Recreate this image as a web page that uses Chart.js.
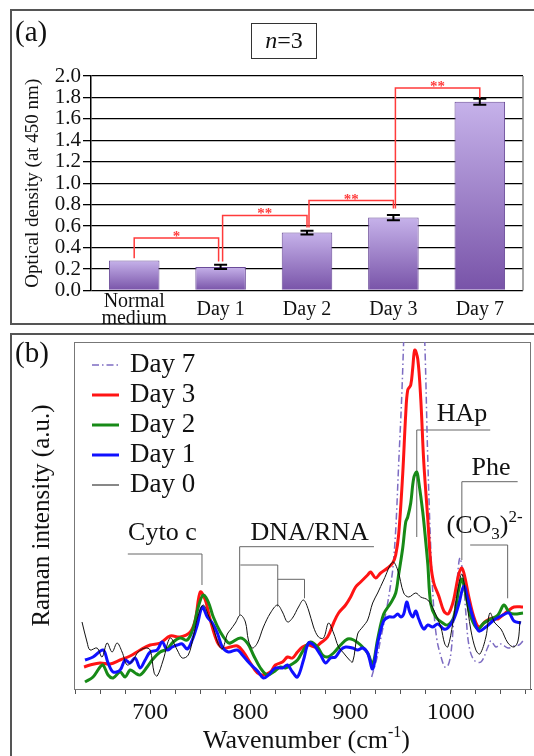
<!DOCTYPE html>
<html>
<head>
<meta charset="utf-8">
<script src="https://cdn.jsdelivr.net/npm/chart.js@4.4.0/dist/chart.umd.min.js"></script>
<style>
  html, body { margin: 0; padding: 0; background: #fff; }
  body { width: 534px; height: 756px; position: relative; overflow: hidden;
         font-family: "Liberation Serif", "Times New Roman", serif; color: #111; }
  .frame { position: absolute; border: 2px solid #555; box-sizing: border-box; }
  #frameA { left: 10px; top: 9px; width: 540px; height: 316px; }
  #frameB { left: 10px; top: 333px; width: 540px; height: 440px; }
  canvas { position: absolute; left: 0; }
  #odChart { top: 0; }
  #ramanChart { top: 333px; }
  .tag { position: absolute; font-size: 29px; line-height: 1; }
  #tagA { left: 15px; top: 17px; }
  #tagB { left: 15px; top: 338px; }
  #nBox { position: absolute; left: 251px; top: 23px; width: 66px; height: 36px;
          border: 1.5px solid #333; box-sizing: border-box; text-align: center;
          font-size: 24px; line-height: 33px; }
</style>
</head>
<body>
<div class="frame" id="frameA"></div>
<div class="frame" id="frameB"></div>
<canvas id="odChart" width="534" height="325"></canvas>
<canvas id="ramanChart" width="534" height="423"></canvas>
<div class="tag" id="tagA">(a)</div>
<div class="tag" id="tagB">(b)</div>
<div id="nBox"><i>n</i>=3</div>
<script>
// ---------------------------------------------------------------------
// Panel (a): optical density at 450 nm, bars with error bars + brackets
// ---------------------------------------------------------------------
const odCategories = [["Normal", "medium"], "Day 1", "Day 2", "Day 3", "Day 7"];
const odValues = [0.28, 0.22, 0.54, 0.68, 1.76];
const odErrors = [0, 0.02, 0.017, 0.024, 0.027];

// significance brackets: from bar, to bar, left foot, top, right foot, label
const sigFrom = [0, 1, 2, 3];
const sigTo = [1, 2, 3, 4];
const sigStart = [0.30, 0.27, 0.587, 0.765];
const sigTop = [0.49, 0.70, 0.838, 1.888];
const sigEnd = [0.27, 0.587, 0.765, 1.796];
const sigLabels = ["*", "**", "**", "**"];

// ---------------------------------------------------------------------
// Panel (b): Raman spectra, [wavenumber cm-1, intensity a.u.]
// ---------------------------------------------------------------------
const day3 = [[634,22],[640,24],[650,26],[660,25],[670,29],[680,33],[690,39],[700,44],[710,46],[720,53],
  [730,52],[740,57],[745,69],[750,97],[755,89],[760,69],[767,47],[773,41],[780,42],[787,43],[793,37],
  [800,26],[807,16],[813,14],[820,17],[825,24],[832,27],[837,32],[842,31],[847,37],[852,42],[858,44],
  [865,42],[870,46],[877,52],[883,66],[888,76],[895,84],[900,92],[905,102],[910,107],[917,114],[920,117],
  [925,111],[930,116],[937,121],[942,126],[945,134],[948,155],[952,215],[955,275],[957,299],[960,304],
  [962,321],[964,339],[967,330],[970,290],[973,227],[977,170],[980,125],[983,106],[988,93],[993,78],
  [997,75],[1000,80],[1003,90],[1008,115],[1011,121],[1014,112],[1018,92],[1023,72],[1028,62],[1035,68],
  [1042,71],[1047,70],[1052,74],[1057,78],[1063,82],[1072,82]];
const day2 = [[635,7],[643,12],[650,22],[653,24],[658,14],[663,11],[670,17],[675,12],[680,19],[685,16],
  [690,14],[697,22],[702,29],[710,37],[717,40],[723,47],[730,51],[737,49],[743,61],[748,82],[753,94],
  [758,87],[763,72],[770,57],[777,47],[780,46],[790,51],[797,46],[803,34],[810,21],[817,14],[823,17],
  [830,22],[835,21],[840,24],[847,29],[853,39],[860,47],[867,42],[872,34],[877,32],[883,36],[890,44],
  [897,50],[903,49],[910,44],[917,36],[922,25],[927,50],[933,75],[940,86],[945,96],[948,115],[952,141],
  [955,167],[957,172],[960,186],[963,211],[966,217],[968,207],[972,177],[975,147],[977,125],[980,85],
  [985,72],[992,66],[997,64],[1003,72],[1008,100],[1011,110],[1015,94],[1020,72],[1027,60],[1033,66],
  [1040,70],[1047,74],[1053,84],[1058,77],[1063,75],[1072,76]];
const day1 = [[635,29],[643,32],[653,39],[658,26],[663,17],[670,19],[675,29],[680,26],[685,31],[690,21],
  [695,29],[700,37],[707,39],[712,47],[717,39],[722,42],[727,44],[732,45],[737,40],[742,49],[747,64],
  [752,82],[757,72],[762,66],[767,56],[772,42],[778,37],[787,39],[792,34],[798,27],[803,22],[808,17],
  [813,11],[818,14],[825,21],[832,21],[837,24],[842,17],[847,12],[853,29],[858,46],[863,44],[870,34],
  [875,26],[880,31],[885,32],[890,39],[895,42],[902,41],[907,39],[912,41],[917,36],[922,20],[927,46],
  [933,68],[938,72],[943,72],[947,75],[950,72],[953,75],[956,87],[959,77],[962,72],[965,78],[968,70],
  [973,60],[977,64],[982,62],[987,65],[993,60],[997,61],[1003,70],[1008,85],[1013,103],[1017,90],
  [1022,72],[1028,58],[1035,62],[1043,69],[1052,74],[1058,76],[1063,68],[1070,66]];
const day0 = [[632,67],[637,47],[640,39],[647,41],[652,32],[657,46],[662,37],[667,46],[672,37],[677,24],
  [683,29],[688,37],[695,41],[700,39],[704,16],[707,13],[713,29],[720,51],[727,39],[732,31],[738,34],
  [743,52],[748,74],[753,84],[758,74],[763,61],[768,45],[772,40],[777,55],[780,59],[785,66],[790,74],
  [795,67],[798,49],[802,41],[807,46],[813,62],[820,76],[827,84],[832,77],[837,67],[842,71],[848,82],
  [853,89],[858,79],[863,62],[868,52],[873,51],[878,66],[883,56],[888,42],[893,36],[898,30],[902,27],
  [907,55],[912,62],[917,69],[922,86],[927,96],[933,109],[942,127],[947,119],[953,96],[958,92],[965,96],
  [970,92],[977,89],[983,79],[990,62],[994,45],[997,42],[1002,66],[1007,99],[1011,115],[1015,93],
  [1020,59],[1025,39],[1029,35],[1035,52],[1039,76],[1044,66],[1050,60],[1057,46],[1063,42],[1067,48],
  [1069,68]];
const day7 = [[921,12],[926,30],[930,50],[934,70],[937,86],[940,105],[942,119],[945,159],[948,226],
  [951,292],[953,350],[957,470],[963,520],[969,470],[974,347],[977,230],[980,140],[983,80],[986,50],
  [990,33],[994,22],[997,23],[1000,35],[1003,70],[1006,105],[1009,131],[1012,115],[1015,76],[1018,44],
  [1023,29],[1030,27],[1037,42],[1040,48],[1045,42],[1050,45],[1057,41],[1063,43],[1068,44],[1072,48]];

const ramanTicks = [625,650,675,700,725,750,775,800,825,850,875,900,925,950,975,1000,1025,1050,1075];
const legendOrder = ["Day 7", "Day 3", "Day 2", "Day 1", "Day 0"];

// peak assignment brackets, in [wavenumber, intensity]
const annoPaths = [
  [[677.7,135],[751.7,135],[751.7,104]],
  [[923.3,142.3],[789.3,142.3],[789.3,74]],
  [[790,124],[827.3,124],[827.3,82.3]],
  [[827.3,109.7],[854,109.7],[854,90.7]],
  [[1039.3,259],[966,259],[966,152]],
  [[1066.7,207.3],[1011,207.3],[1011,129]],
  [[1019.3,144],[1056.7,144],[1056.7,90.7]]
];
const annoLabels = [["Cyto c", 678, 149], ["DNA/RNA", 800, 149], ["HAp", 986, 268], ["Phe", 1020.7, 214]];

const SERIF = "'Liberation Serif', 'Times New Roman', serif";
Chart.defaults.font.family = SERIF;
Chart.defaults.color = "#000";

// ---------------- panel (a) ----------------
new Chart(document.getElementById("odChart"), {
    type: "bar",
    data: {
        labels: odCategories,
        datasets: [{
            data: odValues,
            backgroundColor: function (c) {
                const chart = c.chart;
                if (!chart.chartArea || c.type !== "data") return "#a08ac8";
                const y = chart.scales.y;
                const g = chart.ctx.createLinearGradient(0, y.getPixelForValue(odValues[c.dataIndex]), 0, y.getPixelForValue(0));
                g.addColorStop(0, "#c6b2ea");
                g.addColorStop(1, "#7853a8");
                return g;
            },
            borderColor: "#6a4b98",
            borderWidth: 1,
            categoryPercentage: 1,
            barPercentage: 0.585
        }]
    },
    options: {
        responsive: false, animation: false, devicePixelRatio: 1,
        layout: { padding: { top: 76, right: 11, left: 0, bottom: 0 } },
        plugins: { legend: { display: false }, tooltip: { enabled: false } },
        scales: {
            x: {
                grid: { display: false, drawTicks: false },
                border: { display: false },
                ticks: { font: { size: 20, lineHeight: 0.85 }, padding: 11, crossAlign: "center", maxRotation: 0, color: "#111" },
                afterFit: function (s) { s.height = 34.5; }
            },
            y: {
                min: 0, max: 2,
                ticks: { stepSize: 0.2, autoSkip: false, padding: 2, font: { size: 21, lineHeight: 1 }, color: "#111",
                         callback: v => v.toFixed(1) },
                grid: { color: "#000", lineWidth: 1.3, tickLength: 8 },
                border: { color: "#000", width: 1.5 },
                title: { display: true, text: "Optical density (at 450 nm)", font: { size: 19 }, padding: { top: 22, bottom: 0 }, color: "#111" },
                afterFit: function (s) { s.width = 91; }
            }
        }
    },
    plugins: [{
        id: "odExtras",
        afterDatasetsDraw: function (chart) {
            const ctx = chart.ctx, a = chart.chartArea, y = chart.scales.y;
            const bars = chart.getDatasetMeta(0).data;
            ctx.save();
            // right frame line
            ctx.strokeStyle = "#888"; ctx.lineWidth = 1.5;
            ctx.beginPath(); ctx.moveTo(a.right, a.top); ctx.lineTo(a.right, a.bottom); ctx.stroke();
            // error bars
            ctx.strokeStyle = "#000"; ctx.lineWidth = 2;
            odErrors.forEach(function (e, i) {
                if (!e) return;
                const x = bars[i].x, t = y.getPixelForValue(odValues[i] + e), b = y.getPixelForValue(odValues[i] - e);
                ctx.beginPath();
                ctx.moveTo(x, t); ctx.lineTo(x, b);
                ctx.moveTo(x - 6.5, t); ctx.lineTo(x + 6.5, t);
                ctx.moveTo(x - 6.5, b); ctx.lineTo(x + 6.5, b);
                ctx.stroke();
            });
            // significance brackets
            ctx.strokeStyle = "#ff3b3b"; ctx.fillStyle = "#ff3b3b"; ctx.lineWidth = 1.5;
            ctx.font = "bold 15px " + SERIF; ctx.textAlign = "center"; ctx.textBaseline = "alphabetic";
            sigFrom.forEach(function (f, k) {
                const x1 = bars[f].x + (k ? 2 : 0), x2 = bars[sigTo[k]].x - (k === 0 ? 2 : 0);
                const top = y.getPixelForValue(sigTop[k]);
                ctx.beginPath();
                ctx.moveTo(x1, y.getPixelForValue(sigStart[k]));
                ctx.lineTo(x1, top); ctx.lineTo(x2, top);
                ctx.lineTo(x2, y.getPixelForValue(sigEnd[k]));
                ctx.stroke();
                ctx.fillText(sigLabels[k], (x1 + x2) / 2, top + 3);
            });
            ctx.restore();
        }
    }]
});

// ---------------- panel (b) ----------------
function pts(arr) { return arr.map(p => ({ x: p[0], y: p[1] })); }

const ramanSets = [
    { label: "Day 0", data: pts(day0), borderColor: "#111", borderWidth: 1 },
    { label: "Day 1", data: pts(day1), borderColor: "#1010ff", borderWidth: 3 },
    { label: "Day 2", data: pts(day2), borderColor: "#178a17", borderWidth: 3 },
    { label: "Day 3", data: pts(day3), borderColor: "#ff1414", borderWidth: 3 },
    { label: "Day 7", data: pts(day7), borderColor: "#7d6cc2", borderWidth: 1.5, borderDash: [7, 3, 1.5, 3] }
];
ramanSets.forEach(d => { d.pointRadius = 0; d.tension = 0.35; d.fill = false; d.borderDash = d.borderDash || []; });

new Chart(document.getElementById("ramanChart"), {
    type: "line",
    data: { datasets: ramanSets },
    options: {
        responsive: false, animation: false, devicePixelRatio: 1,
        layout: { padding: { top: 9, right: 3, left: 0, bottom: 0 } },
        plugins: { legend: { display: false }, tooltip: { enabled: false } },
        scales: {
            x: {
                type: "linear", min: 624, max: 1080,
                afterBuildTicks: function (s) { s.ticks = ramanTicks.map(v => ({ value: v })); },
                ticks: { autoSkip: false, maxRotation: 0, padding: 4, font: { size: 24 }, color: "#111",
                         callback: v => (v % 100 === 0 ? String(v) : "") },
                grid: { drawOnChartArea: false, drawTicks: true, tickLength: 5, color: "#555" },
                border: { color: "#333", width: 1 },
                afterFit: function (s) { s.height = 67; }
            },
            y: {
                min: 0, max: 347,
                ticks: { display: false },
                grid: { display: false },
                border: { display: false },
                title: { display: true, text: "Raman intensity (a.u.)", font: { size: 25 }, padding: { top: 27, bottom: 0 }, color: "#111" },
                afterFit: function (s) { s.width = 74; }
            }
        }
    },
    plugins: [{
        id: "ramanFrame",
        beforeDatasetsDraw: function (chart) {
            const ctx = chart.ctx, a = chart.chartArea;
            ctx.save();
            ctx.strokeStyle = "#777"; ctx.lineWidth = 1;
            ctx.strokeRect(a.left + 0.5, a.top + 0.5, a.right - a.left - 1, a.bottom - a.top);
            // assignment brackets
            const xs = chart.scales.x, ys = chart.scales.y;
            ctx.strokeStyle = "#666";
            annoPaths.forEach(function (path) {
                ctx.beginPath();
                path.forEach(function (p, i) {
                    const px = xs.getPixelForValue(p[0]), py = ys.getPixelForValue(p[1]);
                    if (i) ctx.lineTo(px, py); else ctx.moveTo(px, py);
                });
                ctx.stroke();
            });
            ctx.restore();
        },
        afterDraw: function (chart) {
            const ctx = chart.ctx, a = chart.chartArea, xs = chart.scales.x, ys = chart.scales.y;
            ctx.save();
            ctx.fillStyle = "#111";
            ctx.textBaseline = "alphabetic"; ctx.textAlign = "left";
            const big = "26px " + SERIF, small = "17px " + SERIF;
            ctx.font = big;
            annoLabels.forEach(function (l) {
                ctx.fillText(l[0], xs.getPixelForValue(l[1]), ys.getPixelForValue(l[2]));
            });
            // (CO3)2-
            let x = xs.getPixelForValue(995.7);
            const base = ys.getPixelForValue(156);
            ctx.font = big; ctx.fillText("(CO", x, base); x += ctx.measureText("(CO").width;
            ctx.font = small; ctx.fillText("3", x, base + 6); x += ctx.measureText("3").width;
            ctx.font = big; ctx.fillText(")", x, base); x += ctx.measureText(")").width;
            ctx.font = small; ctx.fillText("2-", x, base - 11);

            // x-axis title with superscript
            const t1 = "Wavenumber (cm", t2 = "-1", t3 = ")";
            ctx.font = big; const w1 = ctx.measureText(t1).width, w3 = ctx.measureText(t3).width;
            ctx.font = "16px " + SERIF; const w2 = ctx.measureText(t2).width;
            let tx = (a.left + a.right) / 2 + 4 - (w1 + w2 + w3) / 2;
            const ty = a.bottom + 59;
            ctx.font = big; ctx.fillText(t1, tx, ty); tx += w1;
            ctx.font = "16px " + SERIF; ctx.fillText(t2, tx, ty - 11); tx += w2;
            ctx.font = big; ctx.fillText(t3, tx, ty);

            // legend
            ctx.font = "27px " + SERIF; ctx.textBaseline = "middle";
            legendOrder.forEach(function (name, i) {
                const d = ramanSets.find(s => s.label === name);
                const ly = a.top + 23 + i * 30;
                ctx.strokeStyle = d.borderColor;
                ctx.lineWidth = d.borderWidth;
                ctx.setLineDash(d.borderDash);
                ctx.beginPath(); ctx.moveTo(92, ly); ctx.lineTo(119, ly); ctx.stroke();
                ctx.setLineDash([]);
                ctx.fillText(name, 130, ly);
            });
            ctx.restore();
        }
    }]
});
</script>
</body>
</html>
